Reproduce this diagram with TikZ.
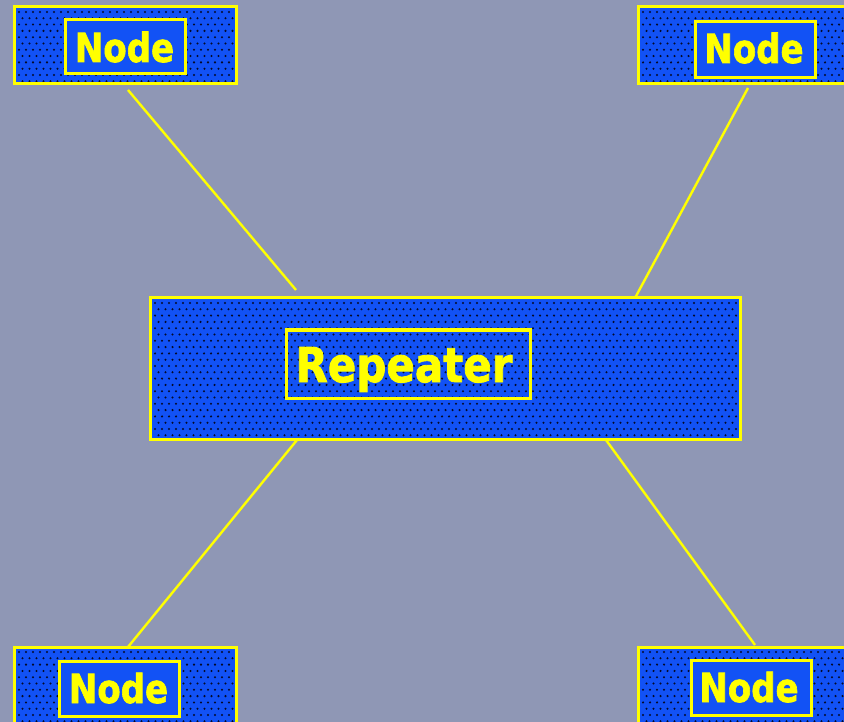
\documentclass[tikz,border=0pt]{standalone}
\usepackage{graphicx}
\usepackage{fontspec}
\newfontfamily\labelfont[FakeBold=1.8]{DejaVu Sans Bold}
\definecolor{bgc}{RGB}{143,151,181}
\definecolor{boxblue}{RGB}{18,82,245}
\definecolor{ylw}{RGB}{255,255,0}
\definecolor{dotc}{RGB}{5,10,40}
\tikzset{
  outerbox/.style={draw=ylw, line width=3pt, fill=boxblue, inner sep=0pt, rectangle},
  innerbox/.style={draw=ylw, line width=3pt, fill=boxblue, inner sep=0pt, rectangle},
  openbox/.style={draw=ylw, line width=3pt, inner sep=0pt, rectangle},
  lbl/.style={text=ylw, inner sep=0pt, anchor=base},
  link/.style={draw=ylw, line width=2.4pt},
}
\newcommand\nodetxt{\labelfont\fontsize{40}{44}\selectfont\scalebox{0.85}[1]{Node}}
\newcommand\reptxt{\labelfont\fontsize{48}{52}\selectfont\scalebox{0.875}[1]{Repeater}}
\newcommand\dotgrid[4]{%
  \begin{scope}
    \clip (#1,#2) rectangle (#3,#4);
    \pgfmathtruncatemacro\nrows{(#4-#2)/6.3+1}
    \pgfmathtruncatemacro\ncols{(#3-#1)/7+1}
    \foreach \r in {0,...,\nrows}{%
      \foreach \c in {0,...,\ncols}{%
        \fill[dotc] ({#1+3+7*\c+3.5*mod(\r,2)},{#2+3+6.3*\r}) circle (1.15);
      }%
    }%
  \end{scope}}
\begin{document}
\begin{tikzpicture}[x=1pt,y=-1pt]
\useasboundingbox (0,0) rectangle (844,722);
\clip (0,0) rectangle (844,722);
\fill[bgc] (0,0) rectangle (844,722);

% connectors
\coordinate (l1a) at (128,90);   \coordinate (l1b) at (296,290);
\coordinate (l2a) at (748,88);   \coordinate (l2b) at (635,298);
\coordinate (l3a) at (297,440);  \coordinate (l3b) at (128,647);
\coordinate (l4a) at (606,440);  \coordinate (l4b) at (755,645);
\draw[link] (l1a) -- (l1b);
\draw[link] (l2a) -- (l2b);
\draw[link] (l3a) -- (l3b);
\draw[link] (l4a) -- (l4b);

% top-left
\node[outerbox, minimum width=222, minimum height=77] (tl) at (125,45.5) {};
\dotgrid{16}{9}{234}{82}
\node[innerbox, minimum width=120, minimum height=54] (tlb) at (125,47) {};
\node[lbl] (tlt) at (124.5,62) {\nodetxt};

% top-right
\node[outerbox, minimum width=222, minimum height=77] (tr) at (749,45.5) {};
\dotgrid{640}{9}{858}{82}
\node[innerbox, minimum width=120, minimum height=56] (trb) at (755,50) {};
\node[lbl] (trt) at (754,63) {\nodetxt};

% repeater
\node[outerbox, minimum width=590, minimum height=141] (rep) at (445,368.5) {};
\dotgrid{152}{300}{738}{437}
\node[openbox, minimum width=244, minimum height=68] (repb) at (408,364) {};
\node[lbl] (rept) at (404,382) {\reptxt};

% bottom-left
\node[outerbox, minimum width=222, minimum height=77] (bl) at (125,685.5) {};
\dotgrid{16}{649}{234}{723}
\node[innerbox, minimum width=120, minimum height=55] (blb) at (119,688.5) {};
\node[lbl] (blt) at (118.5,703) {\nodetxt};

% bottom-right
\node[outerbox, minimum width=222, minimum height=77] (br) at (749,685.5) {};
\dotgrid{640}{649}{858}{723}
\node[innerbox, minimum width=120, minimum height=55] (brb) at (751,687.5) {};
\node[lbl] (brt) at (749,702) {\nodetxt};
\end{tikzpicture}
\end{document}
